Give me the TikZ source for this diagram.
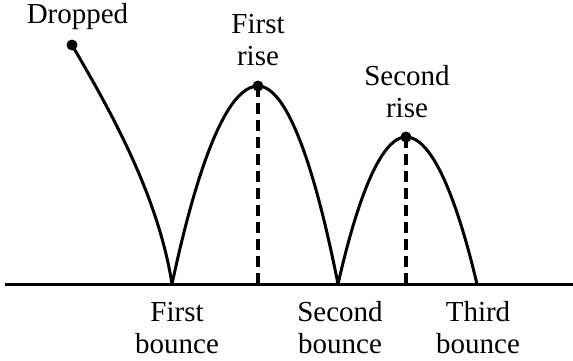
\documentclass[tikz,border=0pt]{standalone}
\usepackage{fontspec}
\setmainfont{Liberation Serif}
\usepackage{tikz}
\usetikzlibrary{calc}
\tikzset{
  path/.style={line width=3pt, line join=round, line cap=round},
  ground/.style={line width=3pt},
  guide/.style={line width=3.2pt, dash pattern=on 11pt off 6pt},
  dot/.style={fill=black},
  lab/.style={font=\fontsize{29}{32}\selectfont, align=center, anchor=base, inner sep=0pt}
}
\begin{document}
\begin{tikzpicture}[x=1pt,y=1pt]
  \useasboundingbox (0,0) rectangle (573,360);
  % ball positions
  \coordinate (drop) at (72,315);
  \coordinate (b1) at (172,76);
  \coordinate (r1) at (258,274);
  \coordinate (b2) at (338,76);
  \coordinate (r2) at (406,223);
  \coordinate (b3) at (477,76);
  \coordinate (gl) at (5,76);
  \coordinate (gr) at (573,76);
  \draw[ground] (gl) -- (gr);
  \draw[guide] (r1) -- (r1 |- gl);
  \draw[guide] (r2) -- (r2 |- gl);
  \draw[path] (drop) .. controls (110,250) and (158,165) .. (b1);
  \draw[path] (b1) parabola bend (r1) (b2);
  \draw[path] (b2) parabola bend (r2) (b3);
  \foreach \p in {drop,r1,r2} \fill[dot] (\p) circle (5.5pt);
  % labels (base = last line)
  \node[lab] (ldrop) at (77.5,337) {Dropped};
  \node[lab] (lr1) at (258,295) {First\\rise};
  \node[lab] (lr2) at (407,243) {Second\\rise};
  \node[lab] (lb1) at (177,7) {First\\bounce};
  \node[lab] (lb2) at (340,7) {Second\\bounce};
  \node[lab] (lb3) at (478,7) {Third\\bounce};
\end{tikzpicture}
\end{document}
